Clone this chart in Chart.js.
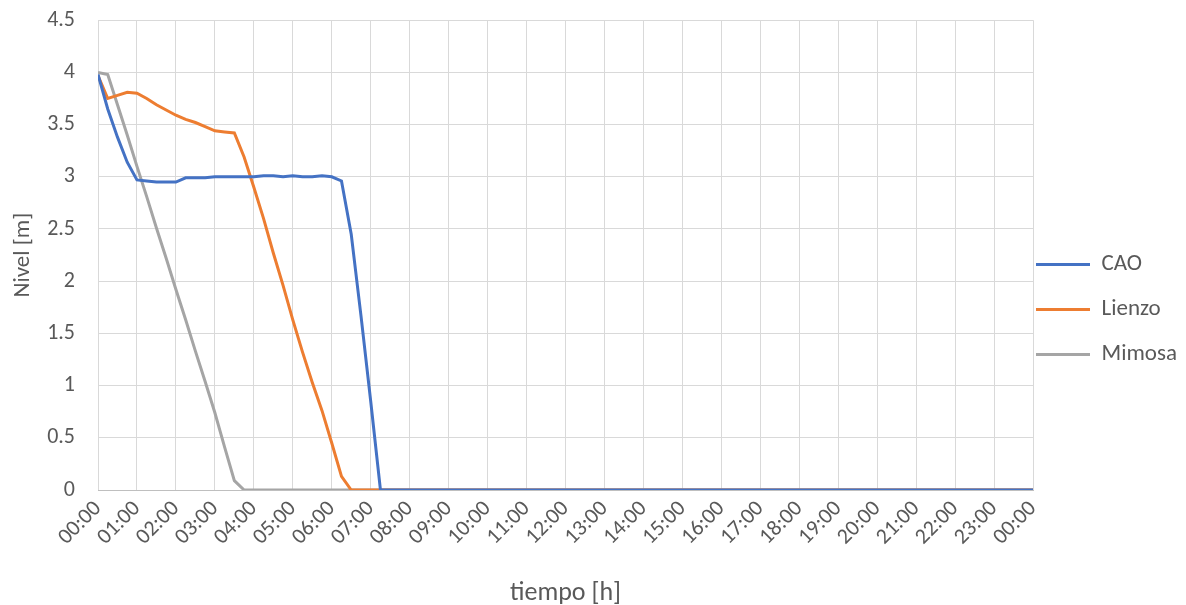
<!DOCTYPE html>
<html>
<head>
<meta charset="utf-8">
<script src="https://cdn.jsdelivr.net/npm/chart.js@4.4.1/dist/chart.umd.min.js"></script>
<style>
    body { margin: 0; background: #fff; }
    #wrap { width: 1186px; height: 605px; position: relative; }
</style>
</head>
<body>
<div id="wrap"><canvas id="myChart"></canvas></div>
<script>
// tiempo en horas (cada 15 min hasta 7:30, luego fin del dia)
var horas = [0, 0.25, 0.5, 0.75, 1, 1.25, 1.5, 1.75, 2, 2.25, 2.5, 2.75, 3, 3.25, 3.5, 3.75,
    4, 4.25, 4.5, 4.75, 5, 5.25, 5.5, 5.75, 6, 6.25, 6.5, 6.75, 7, 7.25, 7.5, 24];

var cao = [3.98, 3.65, 3.38, 3.14, 2.97, 2.96, 2.95, 2.95, 2.95, 2.99, 2.99, 2.99, 3.00, 3.00, 3.00, 3.00,
    3.00, 3.01, 3.01, 3.00, 3.01, 3.00, 3.00, 3.01, 3.00, 2.96, 2.45, 1.67, 0.85, 0, 0, 0];
var lienzo = [3.97, 3.75, 3.78, 3.81, 3.80, 3.75, 3.69, 3.64, 3.59, 3.55, 3.52, 3.48, 3.44, 3.43, 3.42, 3.19,
    2.90, 2.60, 2.27, 1.96, 1.63, 1.32, 1.03, 0.76, 0.45, 0.13, 0, 0, 0, 0, 0, 0];
var mimosa = [4.00, 3.98, 3.69, 3.40, 3.10, 2.81, 2.51, 2.22, 1.92, 1.63, 1.33, 1.04, 0.74, 0.41, 0.09, 0,
    0, 0, 0, 0, 0, 0, 0, 0, 0, 0, 0, 0, 0, 0, 0, 0];

var series = ['CAO', 'Lienzo', 'Mimosa'];
var colores = ['#4472C4', '#ED7D31', '#A5A5A5'];

var fuente = 'Carlito, Lato, sans-serif';
var gris = '#595959';

function puntos(valores) {
    return horas.map(function (h, i) { return { x: h, y: valores[i] }; });
}

// acerca la leyenda al area del grafico y la baja un poco
var moverLeyenda = {
    id: 'moverLeyenda',
    afterLayout: function (chart) {
        var l = chart.legend;
        if (l) {
            l.left -= 19;
            l.width += 19;
            l.top += 5;
            l.bottom += 5;
        }
    }
};

var ctx = document.getElementById('myChart').getContext('2d');
var chart = new Chart(ctx, {
    type: 'line',
    data: {
        datasets: [cao, lienzo, mimosa].map(function (v, i) {
            return {
                label: series[i],
                data: puntos(v),
                borderColor: colores[i],
                backgroundColor: colores[i],
                borderWidth: 3,
                pointRadius: 0,
                tension: 0
            };
        })
    },
    plugins: [moverLeyenda],
    options: {
        responsive: true,
        maintainAspectRatio: false,
        animation: false,
        layout: { padding: { top: 4, right: 0, left: 0, bottom: 0 } },
        plugins: {
            tooltip: { enabled: false },
            legend: {
                position: 'right',
                maxWidth: 153,
                labels: {
                    usePointStyle: true,
                    pointStyle: 'line',
                    pointStyleWidth: 54,
                    padding: 22,
                    color: gris,
                    font: { family: fuente, size: 23 }
                }
            }
        },
        scales: {
            x: {
                type: 'linear',
                min: 0,
                max: 24,
                afterFit: function (s) { s.height = 115; },
                ticks: {
                    stepSize: 1,
                    autoSkip: false,
                    maxRotation: 45,
                    minRotation: 45,
                    padding: 6,
                    color: gris,
                    font: { family: fuente, size: 22 },
                    callback: function (v) {
                        var h = v % 24;
                        return (h < 10 ? '0' : '') + h + ':00';
                    }
                },
                grid: { color: '#D9D9D9', drawTicks: false },
                border: { color: '#BFBFBF', width: 1 },
                title: {
                    display: true,
                    text: 'tiempo [h]',
                    color: gris,
                    font: { family: fuente, size: 26 },
                    padding: { top: 0, bottom: -4 }
                }
            },
            y: {
                min: 0,
                max: 4.5,
                afterFit: function (s) { s.width = 98; },
                ticks: {
                    stepSize: 0.5,
                    padding: 7,
                    color: gris,
                    font: { family: fuente, size: 22 },
                    callback: function (v) { return String(v); }
                },
                grid: { color: '#D9D9D9', drawTicks: true, tickLength: 16, tickColor: 'rgba(0,0,0,0)' },
                border: { display: false },
                title: {
                    display: true,
                    text: 'Nivel [m]',
                    color: gris,
                    font: { family: fuente, size: 23 },
                    padding: { top: 9, bottom: 0 }
                }
            }
        }
    }
});
</script>
</body>
</html>
